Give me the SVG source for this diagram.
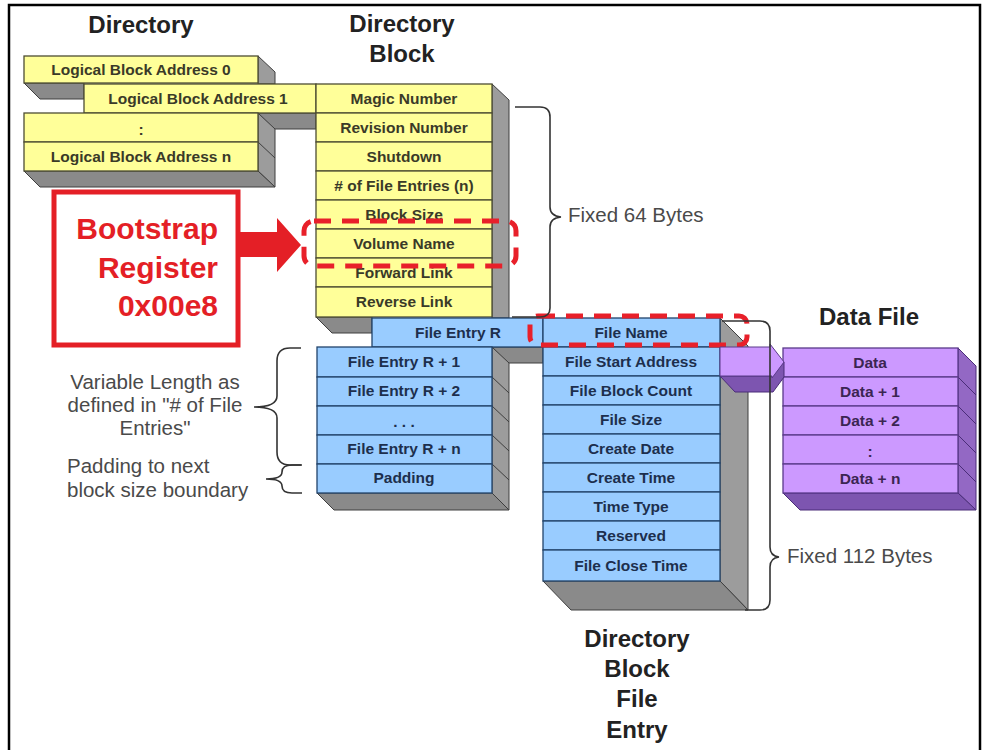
<svg xmlns="http://www.w3.org/2000/svg" width="986" height="750" viewBox="0 0 986 750">
<style>
.t{font-family:"Liberation Sans",Arial,sans-serif;font-weight:bold;font-size:24px;fill:#222;text-anchor:middle}
.r{font-family:"Liberation Sans",Arial,sans-serif;font-weight:bold;font-size:15.5px;text-anchor:middle}
.ry{fill:#3a3a28}.rb{fill:#1d2f4d}.rp{fill:#3b2552}
.n{font-family:"Liberation Sans",Arial,sans-serif;font-size:20.5px;fill:#4a4a4a}
.y{fill:#ffff99;stroke:#4d4d33;stroke-width:1.3}
.b{fill:#99ccff;stroke:#22446b;stroke-width:1.3}
.p{fill:#cc99ff;stroke:#5a3a8a;stroke-width:1.3}
.gs{fill:#9c9c9c;stroke:#3e3e3e;stroke-width:1}
.gb{fill:#8a8a8a;stroke:#3e3e3e;stroke-width:1}
.ps{fill:#9368c4;stroke:#4a2d78;stroke-width:1}
.pb{fill:#7d55b0;stroke:#4a2d78;stroke-width:1}
.br{fill:none;stroke:#333;stroke-width:1.6}
.dash{fill:none;stroke:#e8202a;stroke-width:5;stroke-dasharray:17 11}
.red{font-family:"Liberation Sans",Arial,sans-serif;font-weight:bold;font-size:30px;fill:#e41f26;text-anchor:end}
</style>
<rect width="986" height="750" fill="#fff"/>
<path d="M9 750 V5 H980 V750" fill="none" stroke="#000" stroke-width="2.5"/>

<!-- titles -->
<text class="t" x="141" y="33">Directory</text>
<text class="t" x="402" y="32">Directory</text>
<text class="t" x="402" y="62">Block</text>
<text class="t" x="869" y="325">Data File</text>
<text class="t" x="637" y="647">Directory</text>
<text class="t" x="637" y="677">Block</text>
<text class="t" x="637" y="707">File</text>
<text class="t" x="637" y="738">Entry</text>

<!-- Directory -->
<g id="directory">
  <polygon class="gs" points="258,56 275,72 275,84 258,84"/>
  <polygon class="gb" points="24,83 84,83 84,99 40,99"/>
  <rect class="y" x="24" y="56" width="234" height="27"/>
  <text class="r ry" x="141" y="75">Logical Block Address 0</text>
  <polygon class="gb" points="258,113 316,113 316,129 274,129"/>
  <polygon class="gs" points="258,113 275,129 275,187 258,171"/>
  <line x1="258" y1="142" x2="275" y2="158" stroke="#3e3e3e" stroke-width="1"/>
  <polygon class="gb" points="24,171 258,171 275,187 40,187"/>
  <rect class="y" x="84" y="84" width="232" height="29"/>
  <text class="r ry" x="198" y="104">Logical Block Address 1</text>
  <rect class="y" x="24" y="113" width="234" height="29"/>
  <text class="r ry" x="141" y="135" font-size="20">:</text>
  <rect class="y" x="24" y="142" width="234" height="29"/>
  <text class="r ry" x="141" y="162">Logical Block Address n</text>
</g>

<!-- Directory Block -->
<g id="directory-block">
  <polygon class="gs" points="492,84 509,100 509,318 492,318"/>
  <polygon class="gb" points="316,317 372,317 372,333 332,333"/>
  <rect class="y" x="316" y="84" width="176" height="29"/>
  <text class="r ry" x="404" y="104">Magic Number</text>
  <rect class="y" x="316" y="113" width="176" height="29"/>
  <text class="r ry" x="404" y="133">Revision Number</text>
  <rect class="y" x="316" y="142" width="176" height="29"/>
  <text class="r ry" x="404" y="162">Shutdown</text>
  <rect class="y" x="316" y="171" width="176" height="29"/>
  <text class="r ry" x="404" y="191"># of File Entries (n)</text>
  <rect class="y" x="316" y="200" width="176" height="29"/>
  <text class="r ry" x="404" y="220">Block Size</text>
  <rect class="y" x="316" y="229" width="176" height="29"/>
  <text class="r ry" x="404" y="249">Volume Name</text>
  <rect class="y" x="316" y="258" width="176" height="29"/>
  <text class="r ry" x="404" y="278">Forward Link</text>
  <rect class="y" x="316" y="287" width="176" height="30"/>
  <text class="r ry" x="404" y="307">Reverse Link</text>
</g>

<!-- File entries -->
<g id="file-entries">
  <polygon class="gb" points="492,347 543,347 543,363 508,363"/>
  <polygon class="gs" points="492,347 509,363 509,510 492,493"/>
  <line x1="492" y1="377" x2="509" y2="393" stroke="#3e3e3e"/>
  <line x1="492" y1="406" x2="509" y2="422" stroke="#3e3e3e"/>
  <line x1="492" y1="435" x2="509" y2="451" stroke="#3e3e3e"/>
  <line x1="492" y1="464" x2="509" y2="480" stroke="#3e3e3e"/>
  <polygon class="gb" points="317,493 492,493 509,510 334,510"/>
  <rect class="b" x="372" y="318" width="171" height="29"/>
  <text class="r rb" x="458" y="338">File Entry R</text>
  <rect class="b" x="317" y="347" width="175" height="30"/>
  <text class="r rb" x="404" y="367">File Entry R + 1</text>
  <rect class="b" x="317" y="377" width="175" height="29"/>
  <text class="r rb" x="404" y="396">File Entry R + 2</text>
  <rect class="b" x="317" y="406" width="175" height="29"/>
  <text class="r rb" x="404" y="427">.  .  .</text>
  <rect class="b" x="317" y="435" width="175" height="29"/>
  <text class="r rb" x="404" y="454">File Entry R + n</text>
  <rect class="b" x="317" y="464" width="175" height="29"/>
  <text class="r rb" x="404" y="483">Padding</text>
</g>

<!-- Directory Block File Entry -->
<g id="file-entry">
  <polygon class="gs" points="720,318 748,346 748,610 720,581"/>
  <polygon class="gb" points="543,581 720,581 748,610 571,610"/>
  <rect class="b" x="543" y="318" width="177" height="29"/>
  <text class="r rb" x="631" y="338">File Name</text>
  <rect class="b" x="543" y="347" width="177" height="29"/>
  <text class="r rb" x="631" y="367">File Start Address</text>
  <rect class="b" x="543" y="376" width="177" height="29"/>
  <text class="r rb" x="631" y="396">File Block Count</text>
  <rect class="b" x="543" y="405" width="177" height="29"/>
  <text class="r rb" x="631" y="425">File Size</text>
  <rect class="b" x="543" y="434" width="177" height="29"/>
  <text class="r rb" x="631" y="454">Create Date</text>
  <rect class="b" x="543" y="463" width="177" height="29"/>
  <text class="r rb" x="631" y="483">Create Time</text>
  <rect class="b" x="543" y="492" width="177" height="29"/>
  <text class="r rb" x="631" y="512">Time Type</text>
  <rect class="b" x="543" y="521" width="177" height="29"/>
  <text class="r rb" x="631" y="541">Reserved</text>
  <rect class="b" x="543" y="550" width="177" height="31"/>
  <text class="r rb" x="631" y="571">File Close Time</text>
</g>

<!-- Data File -->
<g id="data-file">
  <polygon class="ps" points="958,348 976,366 976,510 958,493"/>
  <line x1="958" y1="377" x2="976" y2="395" stroke="#4a2d78"/>
  <line x1="958" y1="406" x2="976" y2="424" stroke="#4a2d78"/>
  <line x1="958" y1="435" x2="976" y2="453" stroke="#4a2d78"/>
  <line x1="958" y1="464" x2="976" y2="482" stroke="#4a2d78"/>
  <polygon class="pb" points="783,493 958,493 976,510 800,510"/>
  <rect class="p" x="783" y="348" width="175" height="29"/>
  <text class="r rp" x="870" y="368">Data</text>
  <rect class="p" x="783" y="377" width="175" height="29"/>
  <text class="r rp" x="870" y="397">Data + 1</text>
  <rect class="p" x="783" y="406" width="175" height="29"/>
  <text class="r rp" x="870" y="426">Data + 2</text>
  <rect class="p" x="783" y="435" width="175" height="29"/>
  <text class="r rp" x="870" y="457" font-size="20">:</text>
  <rect class="p" x="783" y="464" width="175" height="29"/>
  <text class="r rp" x="870" y="484">Data + n</text>
</g>

<!-- Bootstrap register -->
<g id="bootstrap">
  <rect x="54" y="192" width="184" height="153" fill="#fff" stroke="#e41f26" stroke-width="5"/>
  <text class="red" x="218" y="239">Bootstrap</text>
  <text class="red" x="218" y="278">Register</text>
  <text class="red" x="218" y="316">0x00e8</text>
</g>

<!-- connectors -->
<g id="connectors">
  <polygon points="240,232 277,232 277,218 301,245 277,272 277,257 240,257" fill="#e41f26"/>
  <rect class="dash" x="304" y="221" width="212" height="45" rx="10"/>
  <rect class="dash" x="530" y="316" width="217" height="29" rx="8"/>
  <polygon points="720,376 772,376 784,362 784,377 773,392 735,392" class="pb"/>
  <polygon points="720,347 770,347 770,344 784,362 772,378 772,376 720,376" fill="#cc99ff" stroke="#5a3a8a" stroke-width="1"/>
  <path class="br" d="M515 107 H540 Q550 107 550 117 V207 Q550 216 561 217 Q550 218 550 227 V308 Q550 317 540 317 H512"/>
  <path class="br" d="M722 321 H760 Q770 321 770 331 V547 Q770 556 779 557 Q770 558 770 567 V600 Q770 610 760 610 H745"/>
  <path class="br" d="M301 348 H290 Q277 348 277 361 V396 Q277 407 254 407 Q277 407 277 418 V452 Q277 465 290 465 H301"/>
  <path class="br" d="M302 465 H292 Q282 465 282 472 Q282 479 266 479 Q282 479 282 486 Q282 493 292 493 H302"/>
</g>

<!-- annotations -->
<text class="n" x="568" y="222">Fixed 64 Bytes</text>
<text class="n" x="787" y="563">Fixed 112 Bytes</text>
<text class="n" x="155" y="389" text-anchor="middle">Variable Length as</text>
<text class="n" x="155" y="412" text-anchor="middle">defined in "# of File</text>
<text class="n" x="155" y="435" text-anchor="middle">Entries"</text>
<text class="n" x="67" y="473">Padding to next</text>
<text class="n" x="67" y="497">block size boundary</text>
</svg>
